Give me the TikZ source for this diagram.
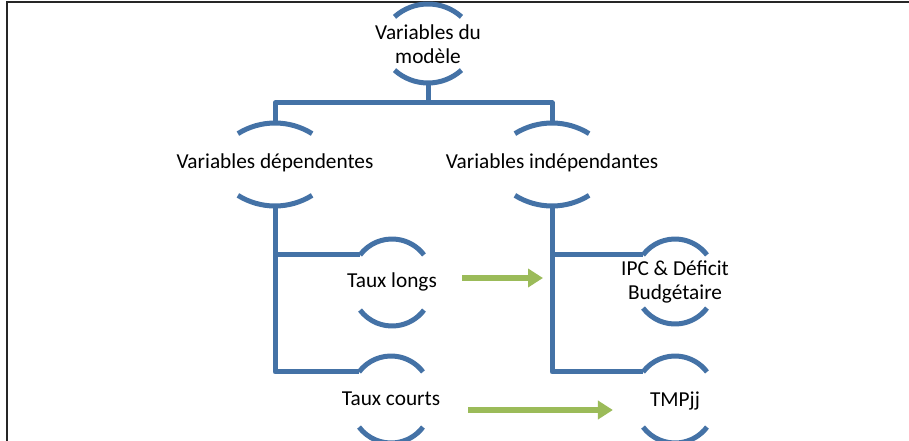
\documentclass[tikz,border=0pt]{standalone}
\usepackage{fontspec}
\setmainfont{Carlito}
\usetikzlibrary{arrows.meta}
\definecolor{treeblue}{RGB}{68,114,166}
\definecolor{flowgreen}{RGB}{155,187,89}

\begin{document}
\begin{tikzpicture}[x=1pt, y=-1pt,
  conn/.style={draw=treeblue, line width=5pt, line join=round},
  flow/.style={draw=flowgreen, line width=6pt, -{Triangle[width=18pt, length=15pt]}},
  lbl/.style={font=\fontsize{21.3}{23.5}\selectfont, align=center, inner sep=0pt}]
  \useasboundingbox (0,0) rectangle (909,441);
  % page frame, only left and top edges show
  \draw[line width=2pt, black!85] (7,441) -- (7,2) -- (909,2);
  % labels
  \node[lbl] (mod) at (428,44) {Variables du\\modèle};
  \node[lbl] (dep) at (275,163) {Variables dépendentes};
  \node[lbl] (ind) at (552,163) {Variables indépendantes};
  \node[lbl] (lng) at (392,282) {Taux longs};
  \node[lbl] (ipc) at (675,282) {IPC \& Déficit\\Budgétaire};
  \node[lbl] (crt) at (391,399) {Taux courts};
  \node[lbl] (tmp) at (675,401) {TMPjj};
  % bracket arcs above and below each label
  % name / gap above / gap below / radius / half angle
  \foreach \n/\gapt/\gapb/\rad/\ang in {mod/40/39/50/42, dep/40/43/70/32,
      ind/40/43/70/32, lng/43/44/40/53, ipc/43/42/40/53,
      crt/43/44/40/53, tmp/45/42/40/53} {
    \path (\n.center) ++(0,-\gapt) coordinate (\n-t)
      ++({-\rad*sin(\ang)},{\rad*(1-cos(\ang))}) coordinate (\n-l);
    \path (\n.center) ++(0,\gapb) coordinate (\n-b);
    \draw[conn] (\n-l) arc[start angle=270-\ang, end angle=270+\ang, radius=\rad];
    \draw[conn] (\n-b) ++({-\rad*sin(\ang)},{-\rad*(1-cos(\ang))})
      arc[start angle=90+\ang, end angle=90-\ang, radius=\rad];
  }
  % tree connectors
  \draw[conn] (mod-b) -- ++(0,20) coordinate (bar);
  \draw[conn] (bar) -| (dep-t);
  \draw[conn] (bar) -| (ind-t);
  \draw[conn] (dep-b) |- (lng-l);
  \draw[conn] (dep-b) |- (crt-l);
  \draw[conn] (ind-b) |- (ipc-l);
  \draw[conn] (ind-b) |- (tmp-l);
  % green arrows
  \path ([yshift=4pt]lng.east) coordinate (lng-out) (lng-out -| ind-b) coordinate (lng-in);
  \draw[flow, shorten <=25pt, shorten >=9pt] (lng-out) -- (lng-in);
  \path ([yshift=-11pt]crt.east) coordinate (crt-out) (crt-out -| tmp.west) coordinate (tmp-in);
  \draw[flow, shorten <=28pt, shorten >=37pt] (crt-out) -- (tmp-in);
\end{tikzpicture}
\end{document}
